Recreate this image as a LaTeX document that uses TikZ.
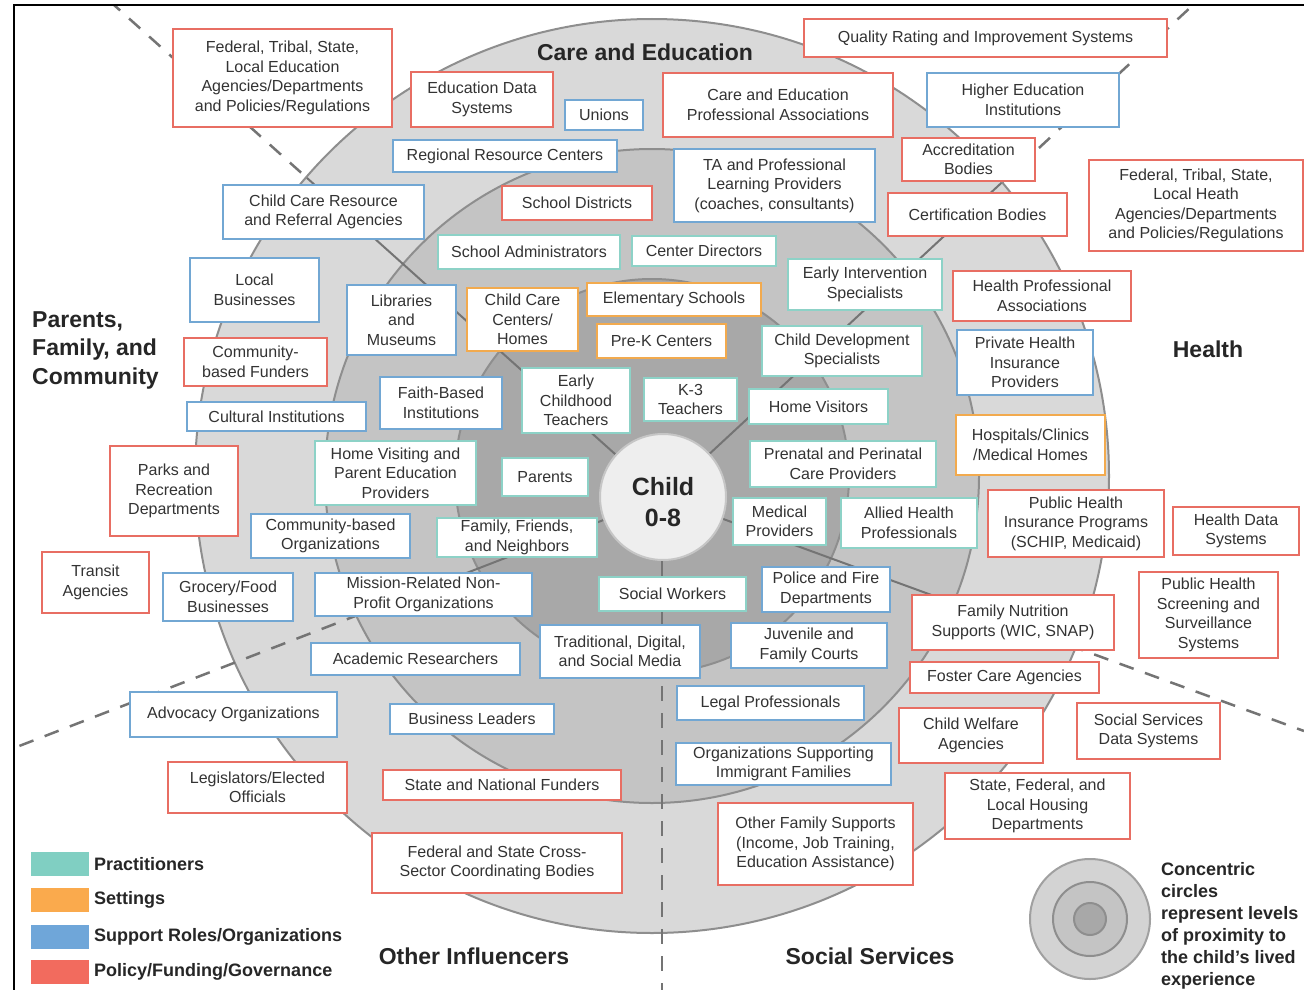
\documentclass[tikz,border=0pt]{standalone}
\usepackage{fontspec}
\setmainfont{Liberation Sans}
\definecolor{cred}{HTML}{E86E63}
\definecolor{cblue}{HTML}{72A7D3}
\definecolor{cteal}{HTML}{8DD2C7}
\definecolor{corange}{HTML}{F2AA4E}
\definecolor{lred}{HTML}{F26B5E}
\definecolor{lblue}{HTML}{6FA6D9}
\definecolor{lteal}{HTML}{80CFC2}
\definecolor{lorange}{HTML}{FAAA4D}
\definecolor{ctext}{HTML}{333333}
\definecolor{chead}{HTML}{262626}
\definecolor{cdiv}{HTML}{747474}
\definecolor{cring}{HTML}{8E8E8E}
\definecolor{gOne}{HTML}{D9D9D9}
\definecolor{gTwo}{HTML}{C4C4C4}
\definecolor{gThree}{HTML}{A8A8A8}
\definecolor{gLeg}{HTML}{D3D3D3}
\definecolor{gLegB}{HTML}{A0A0A0}
\definecolor{cchild}{HTML}{EEEEEE}
\definecolor{cchildb}{HTML}{C6C6C6}
\newcommand{\bx}[7]{\node[bxs,draw=#2,minimum width={(#5-#3)*1pt},minimum height={(#6-#4)*1pt}] (#1) at ({(#3+#5)/2},{(#4+#6)/2}) {#7};}
\begin{document}
\begin{tikzpicture}[x=1pt,y=-1pt,
  bxs/.style={rectangle, fill=white, line width=2.6pt, inner sep=0pt, align=center, font=\fontsize{16}{19.5}\selectfont, text=ctext},
  sect/.style={font=\bfseries\fontsize{23}{28.5}\selectfont, text=chead, inner sep=0pt},
  leg/.style={font=\bfseries\fontsize{18}{22}\selectfont, text=chead, inner sep=0pt, anchor=west},
  swatch/.style={rectangle, inner sep=0pt, minimum width=58pt, minimum height=24pt},
  divsolid/.style={draw=cdiv, line width=2pt},
  divdash/.style={draw=cdiv, line width=2.5pt, dash pattern=on 15pt off 12pt},
  ring/.style={draw=cring, line width=2pt}]
\useasboundingbox (0,0) rectangle (1304,990);
\fill[white] (0,0) rectangle (1304,990);
% key points
\coordinate (O) at (652,476);
\coordinate (C) at (663,497);
\coordinate (TL) at (114,5);
\coordinate (TR) at (1193,5);
\coordinate (LR) at (1304,731);
\coordinate (LL) at (14,748);
\coordinate (BT) at (662,990);
% dashed dividers outside outer circle
\draw[divdash] (C) -- (TL);
\draw[divdash] (C) -- (TR);
\draw[divdash] (C) -- (LR);
\fill[gOne] (O) circle[radius=457pt];
\draw[ring] (O) circle[radius=457pt];
\draw[divdash] (C) -- (LL);
\fill[gTwo] (O) circle[radius=327pt];
\draw[ring] (O) circle[radius=327pt];
\draw[divdash] (662,497) -- (BT);
\fill[gThree] (O) circle[radius=197pt];
\draw[ring] (O) circle[radius=197pt];
% solid dividers inside circles
\begin{scope}
\clip (O) circle[radius=456pt];
\draw[divsolid] (C) -- (TL);
\draw[divsolid] (C) -- (TR);
\draw[divsolid] (C) -- (LR);
\end{scope}
\begin{scope}
\clip (O) circle[radius=326pt];
\draw[divsolid] (C) -- (LL);
\end{scope}
\begin{scope}
\clip (O) circle[radius=196pt];
\draw[divsolid] (662,497) -- (BT);
\end{scope}
% child
\node[circle, fill=cchild, draw=cchildb, line width=2pt, minimum size=126pt, inner sep=0pt] (child) at (C) {};
\node[font=\bfseries\fontsize{25}{31}\selectfont, text=chead, align=center, inner sep=0pt] (childtxt) at (663,502) {Child\\0-8};
% frame
\draw[black, line width=2pt] (14,990) -- (14,5) -- (1304,5);
% sector labels
\node[sect] (lblCE) at (645,52) {Care and Education};
\node[sect, align=left, anchor=west] (lblPFC) at (32,350) {Parents,\\Family, and\\Community};
\node[sect] (lblH) at (1208,349) {Health};
\node[sect] (lblOI) at (474,956) {Other Influencers};
\node[sect] (lblSS) at (870,956) {Social Services};
% Care and Education
\bx{fedEd}{cred}{173}{29}{392}{127}{Federal, Tribal, State,\\Local Education\\Agencies/Departments\\and Policies/Regulations}
\bx{edData}{cred}{411}{72}{553}{127}{Education Data\\Systems}
\bx{unions}{cblue}{565}{100}{643}{130}{Unions}
\bx{ceProf}{cred}{663}{73}{893}{137}{Care and Education\\Professional Associations}
\bx{qris}{cred}{804}{19}{1167}{57}{Quality Rating and Improvement Systems}
\bx{higherEd}{cblue}{927}{73}{1119}{127}{Higher Education\\Institutions}
\bx{accred}{cred}{902}{138}{1035}{181}{Accreditation\\Bodies}
\bx{certif}{cred}{888}{193}{1067}{236}{Certification Bodies}
\bx{regional}{cblue}{393}{140}{617}{172}{Regional Resource Centers}
\bx{ta}{cblue}{674}{149}{875}{222}{TA and Professional\\Learning Providers\\(coaches, consultants)}
\bx{schoolDist}{cred}{502}{186}{652}{220}{School Districts}
\bx{ccrr}{cblue}{223}{185}{424}{239}{Child Care Resource\\and Referral Agencies}
\bx{schoolAdm}{cteal}{438}{235}{620}{269}{School Administrators}
\bx{centerDir}{cteal}{632}{236}{776}{266}{Center Directors}
\bx{earlyInt}{cteal}{788}{259}{942}{310}{Early Intervention\\Specialists}
\bx{ccCenters}{corange}{467}{288}{578}{351}{Child Care\\Centers/\\Homes}
\bx{elem}{corange}{587}{283}{761}{316}{Elementary Schools}
\bx{prek}{corange}{597}{324}{726}{358}{Pre-K Centers}
\bx{childDev}{cteal}{762}{326}{922}{376}{Child Development\\Specialists}
% Health
\bx{fedHealth}{cred}{1089}{160}{1303}{251}{Federal, Tribal, State,\\Local Heath\\Agencies/Departments\\and Policies/Regulations}
\bx{healthProf}{cred}{953}{271}{1131}{321}{Health Professional\\Associations}
\bx{privIns}{cblue}{957}{330}{1093}{395}{Private Health\\Insurance\\Providers}
\bx{hospitals}{corange}{956}{415}{1105}{475}{Hospitals/Clinics\\/Medical Homes}
\bx{homeVis}{cteal}{749}{389}{888}{424}{Home Visitors}
\bx{prenatal}{cteal}{750}{441}{936}{487}{Prenatal and Perinatal\\Care Providers}
\bx{medical}{cteal}{733}{498}{826}{545}{Medical\\Providers}
\bx{allied}{cteal}{841}{498}{977}{548}{Allied Health\\Professionals}
\bx{pubIns}{cred}{988}{490}{1164}{557}{Public Health\\Insurance Programs\\(SCHIP, Medicaid)}
\bx{healthData}{cred}{1173}{507}{1299}{555}{Health Data\\Systems}
\bx{screening}{cred}{1139}{572}{1278}{658}{Public Health\\Screening and\\Surveillance\\Systems}
% Social Services
\bx{police}{cblue}{762}{567}{890}{612}{Police and Fire\\Departments}
\bx{nutrition}{cred}{912}{595}{1114}{650}{Family Nutrition\\Supports (WIC, SNAP)}
\bx{foster}{cred}{910}{662}{1099}{693}{Foster Care Agencies}
\bx{juvenile}{cblue}{731}{623}{887}{668}{Juvenile and\\Family Courts}
\bx{legal}{cblue}{677}{686}{864}{720}{Legal Professionals}
\bx{welfare}{cred}{899}{708}{1043}{763}{Child Welfare\\Agencies}
\bx{ssData}{cred}{1077}{703}{1220}{759}{Social Services\\Data Systems}
\bx{immigrant}{cblue}{676}{743}{891}{785}{Organizations Supporting\\Immigrant Families}
\bx{housing}{cred}{945}{773}{1130}{839}{State, Federal, and\\Local Housing\\Departments}
\bx{otherFam}{cred}{718}{803}{913}{885}{Other Family Supports\\(Income, Job Training,\\Education Assistance)}
\bx{socialW}{cteal}{599}{577}{746}{611}{Social Workers}
% Other Influencers
\bx{media}{cblue}{540}{625}{700}{678}{Traditional, Digital,\\and Social Media}
\bx{academic}{cblue}{311}{643}{520}{675}{Academic Researchers}
\bx{mission}{cblue}{315}{573}{532}{616}{Mission-Related Non-\\Profit Organizations}
\bx{business}{cblue}{390}{704}{554}{734}{Business Leaders}
\bx{advocacy}{cblue}{130}{692}{337}{737}{Advocacy Organizations}
\bx{legis}{cred}{168}{762}{347}{813}{Legislators/Elected\\Officials}
\bx{stateFund}{cred}{383}{770}{621}{800}{State and National Funders}
\bx{crossSector}{cred}{372}{833}{622}{893}{Federal and State Cross-\\Sector Coordinating Bodies}
% Parents, Family, and Community
\bx{localBiz}{cblue}{190}{258}{319}{322}{Local\\Businesses}
\bx{libraries}{cblue}{347}{285}{456}{355}{Libraries\\and\\Museums}
\bx{commFund}{cred}{184}{338}{327}{386}{Community-\\based Funders}
\bx{cultural}{cblue}{187}{402}{366}{431}{Cultural Institutions}
\bx{faith}{cblue}{380}{377}{502}{429}{Faith-Based\\Institutions}
\bx{ecTeachers}{cteal}{522}{368}{630}{433}{Early\\Childhood\\Teachers}
\bx{kThree}{cteal}{644}{378}{737}{421}{K-3\\Teachers}
\bx{parks}{cred}{110}{446}{238}{536}{Parks and\\Recreation\\Departments}
\bx{homeVisit}{cteal}{315}{441}{476}{505}{Home Visiting and\\Parent Education\\Providers}
\bx{parents}{cteal}{502}{458}{588}{496}{Parents}
\bx{commOrg}{cblue}{251}{514}{410}{558}{Community-based\\Organizations}
\bx{ffn}{cteal}{437}{518}{597}{557}{Family, Friends,\\and Neighbors}
\bx{transit}{cred}{42}{552}{149}{613}{Transit\\Agencies}
\bx{grocery}{cblue}{163}{573}{293}{621}{Grocery/Food\\Businesses}
% legend
\node[swatch, fill=lteal] (swP) at (60,864) {};
\node[swatch, fill=lorange] (swS) at (60,900) {};
\node[swatch, fill=lblue] (swR) at (60,937) {};
\node[swatch, fill=lred] (swF) at (60,972) {};
\node[leg] (legP) at (94,864) {Practitioners};
\node[leg] (legS) at (94,900) {Settings};
\node[leg] (legR) at (94,937) {Support Roles/Organizations};
\node[leg] (legF) at (94,972) {Policy/Funding/Governance};
% concentric legend
\fill[gLeg] (1090,919) circle[radius=60pt];
\draw[gLegB, line width=2pt] (1090,919) circle[radius=60pt];
\fill[gTwo] (1090,919) circle[radius=37pt];
\draw[ring] (1090,919) circle[radius=37pt];
\fill[gThree] (1090,919) circle[radius=16pt];
\draw[ring] (1090,919) circle[radius=16pt];
\node[leg, align=left] (legC) at (1161,926) {Concentric\\circles\\represent levels\\of proximity to\\the child's lived\\experience};
\end{tikzpicture}
\end{document}
